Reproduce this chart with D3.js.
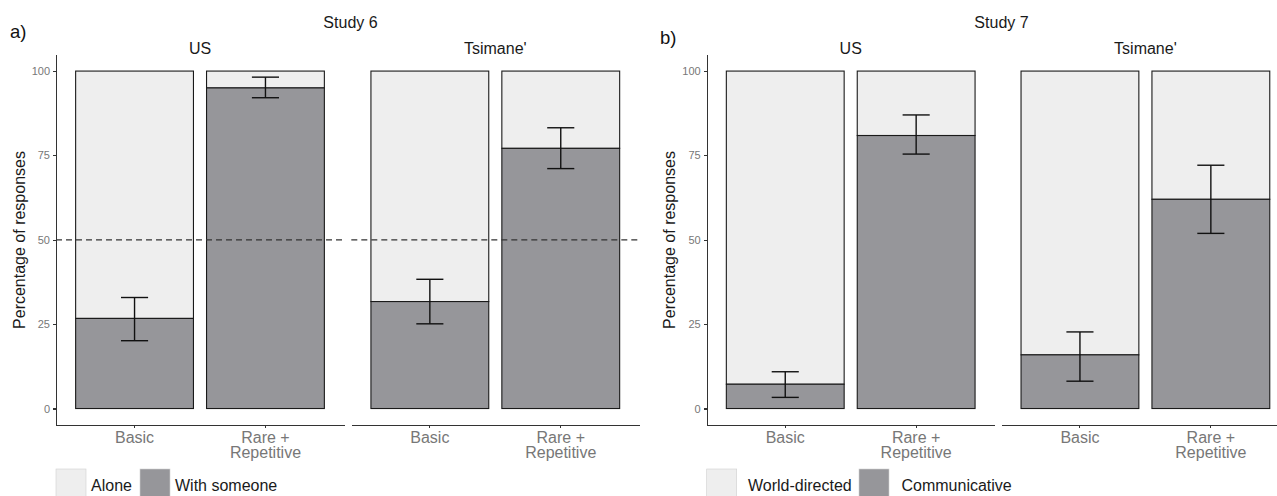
<!DOCTYPE html>
<html>
<head>
<meta charset="utf-8">
<title>Study 6 / Study 7</title>
<script src="https://cdn.jsdelivr.net/npm/d3@7"></script>
<style>
  body { margin: 0; background: #fff; }
  svg { display: block; font-family: "Liberation Sans", Arial, Helvetica, sans-serif; }
  .axis path, .axis line { stroke: #333; stroke-width: 1.1; shape-rendering: crispEdges; }
  .axis text { fill: #777; }
</style>
</head>
<body>
<svg id="chart" width="1277" height="496"></svg>
<script>
// data
var studies = ['Study 6', 'Study 7'];
var tags = ['a)', 'b)'];
var sites = ['US', "Tsimane'"];
var conditions = ['Basic', 'Rare + Repetitive'];
var conditionLines = [['Basic'], ['Rare +', 'Repetitive']];
var yTicks = [0, 25, 50, 75, 100];

// % of "with someone" / "communicative" responses, per site: [Basic, Rare + Repetitive]
var study6Mean  = [[26.7, 95.0], [31.7, 77.1]];
var study6Lower = [[20.1, 92.1], [25.1, 71.1]];
var study6Upper = [[32.9, 98.2], [38.3, 83.2]];

var study7Mean  = [[7.2, 80.9], [15.9, 62.0]];
var study7Lower = [[3.3, 75.4], [8.1, 51.9]];
var study7Upper = [[10.9, 87.0], [22.7, 72.1]];

var legend6 = ['Alone', 'With someone'];
var legend7 = ['World-directed', 'Communicative'];

var LIGHT = '#eeeeee', DARK = '#96969a';

var svg = d3.select('#chart');

var y = d3.scaleLinear().domain([-5, 105]).range([425.4, 54.2]);

var panels = [
  { mean: study6Mean, lower: study6Lower, upper: study6Upper, legend: legend6,
    facetX: [56, 351.3], titleX: 350.5, tagX: 10, tagY: 37.5, hline: true,
    keyX: [56, 140], textX: [91, 175] },
  { mean: study7Mean, lower: study7Lower, upper: study7Upper, legend: legend7,
    facetX: [706.7, 1001.4], titleX: 1001.5, tagX: 660, tagY: 44, hline: false,
    keyX: [706.7, 859], textX: [748, 901.5] }
];
var FACET_W = 288;

panels.forEach(function (p, pi) {
  var g = svg.append('g');

  // tag + study title
  g.append('text').attr('x', p.tagX).attr('y', p.tagY)
    .attr('font-size', 18.5).attr('fill', '#111').text(tags[pi]);
  g.append('text').attr('x', p.titleX).attr('y', 28.3)
    .attr('text-anchor', 'middle').attr('font-size', 16).attr('fill', '#1a1a1a')
    .text(studies[pi]);

  // y axis (left facet only)
  var yAxis = g.append('g').attr('class', 'axis').attr('color', '#777')
    .attr('transform', 'translate(' + p.facetX[0] + ',0)')
    .call(d3.axisLeft(y).tickValues(yTicks).tickSize(3).tickSizeOuter(0).tickPadding(3));
  yAxis.selectAll('.tick text').attr('font-size', 11).attr('font-family', null)
    .attr('fill', '#7a7a7a');

  g.append('text')
    .attr('transform', 'translate(' + (p.facetX[0] - 37) + ',' + 240 + ') rotate(-90)')
    .attr('text-anchor', 'middle').attr('dy', '0.35em')
    .attr('font-size', 16).attr('fill', '#1a1a1a')
    .text('Percentage of responses');

  sites.forEach(function (site, si) {
    var x0 = p.facetX[si];
    var x = d3.scaleBand().domain(conditions)
      .range([x0, x0 + FACET_W]).paddingInner(0.1).paddingOuter(0.15);

    // strip label
    g.append('text').attr('x', x0 + FACET_W / 2).attr('y', 54.3)
      .attr('text-anchor', 'middle').attr('font-size', 16).attr('fill', '#1a1a1a')
      .text(site);

    var rows = conditions.map(function (c, ci) {
      return { cond: c, v: p.mean[si][ci], lo: p.lower[si][ci], hi: p.upper[si][ci] };
    });

    // light part (up to 100) and dark part (0 to value)
    g.selectAll(null).data(rows).enter().append('rect')
      .attr('x', function (d) { return x(d.cond); })
      .attr('y', y(100))
      .attr('width', x.bandwidth())
      .attr('height', function (d) { return y(d.v) - y(100); })
      .attr('fill', LIGHT).attr('stroke', '#1a1a1a').attr('stroke-width', 1.1);
    g.selectAll(null).data(rows).enter().append('rect')
      .attr('x', function (d) { return x(d.cond); })
      .attr('y', function (d) { return y(d.v); })
      .attr('width', x.bandwidth())
      .attr('height', function (d) { return y(0) - y(d.v); })
      .attr('fill', DARK).attr('stroke', '#1a1a1a').attr('stroke-width', 1.1);

    if (p.hline) {
      g.append('line')
        .attr('x1', x0).attr('x2', x0 + FACET_W)
        .attr('y1', y(50)).attr('y2', y(50))
        .attr('stroke', '#333').attr('stroke-width', 1.2)
        .attr('stroke-dasharray', '6,4');
    }

    // error bars
    var capW = x.bandwidth() * 0.23;
    var eb = g.selectAll(null).data(rows).enter().append('g')
      .attr('stroke', '#111').attr('stroke-width', 1.4);
    eb.append('line')
      .attr('x1', function (d) { return x(d.cond) + x.bandwidth() / 2; })
      .attr('x2', function (d) { return x(d.cond) + x.bandwidth() / 2; })
      .attr('y1', function (d) { return y(d.lo); })
      .attr('y2', function (d) { return y(d.hi); });
    ['lo', 'hi'].forEach(function (k) {
      eb.append('line')
        .attr('x1', function (d) { return x(d.cond) + x.bandwidth() / 2 - capW / 2; })
        .attr('x2', function (d) { return x(d.cond) + x.bandwidth() / 2 + capW / 2; })
        .attr('y1', function (d) { return y(d[k]); })
        .attr('y2', function (d) { return y(d[k]); });
    });

    // x axis
    var xAxis = g.append('g').attr('class', 'axis')
      .attr('transform', 'translate(0,425)')
      .call(d3.axisBottom(x).tickSize(3).tickSizeOuter(0));
    xAxis.selectAll('.tick text').each(function (d, i) {
      var t = d3.select(this).text(null)
        .attr('y', 17.7).attr('dy', null)
        .attr('font-size', 16).attr('font-family', null);
      conditionLines[i].forEach(function (line, li) {
        t.append('tspan').attr('x', 0).attr('dy', li === 0 ? 0 : 15).text(line);
      });
    });
  });

  // legend
  [LIGHT, DARK].forEach(function (col, k) {
    g.append('rect').attr('x', p.keyX[k]).attr('y', 469)
      .attr('width', 30).attr('height', 30)
      .attr('fill', col).attr('stroke', '#cfcfcf').attr('stroke-width', 0.6);
    g.append('text').attr('x', p.textX[k]).attr('y', 491)
      .attr('font-size', 16).attr('fill', '#1a1a1a').text(p.legend[k]);
  });
});
</script>
</body>
</html>
